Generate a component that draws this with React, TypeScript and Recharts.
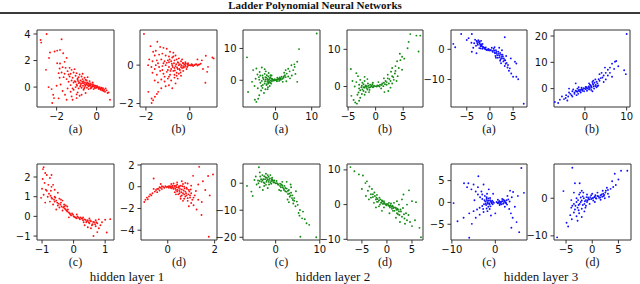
import { ScatterChart, Scatter, XAxis, YAxis, ReferenceArea } from 'recharts';

type Pt = [number, number];

// ─── Data (hidden layer 1 = red, 2 = green, 3 = blue) ──

const RED_A: Pt[] = [
  [-2.5, 4.0], [-2.8, 3.55], [-2.77, 3.35], [-1.75, 3.6], [-2.33, 2.6], [-2.1, 2.68], [-1.97, 2.75], [-1.83, 2.8],
  [-1.67, 2.55], [-2.38, 2.2], [-1.5, 2.2], [-1.97, 1.8], [-1.83, 1.78], [-1.6, 1.9], [-2.53, 1.3], [-1.85, 1.4],
  [-1.7, 1.5], [-1.55, 1.45], [-1.35, 1.45], [-1.25, 1.3], [-1.1, 1.35], [-1.9, 1.05], [-1.75, 1.1], [-1.6, 1.0],
  [-1.45, 1.2], [-1.3, 1.0], [-1.15, 1.1], [-1.0, 1.05], [-0.85, 0.95], [-0.7, 1.0], [-1.85, 0.7], [-1.65, 0.75],
  [-1.5, 0.6], [-1.35, 0.8], [-1.2, 0.7], [-1.05, 0.85], [-0.9, 0.75], [-0.75, 0.8], [-0.6, 0.7], [-0.45, 0.75],
  [-1.4, 0.4], [-1.25, 0.5], [-1.1, 0.45], [-0.95, 0.55], [-0.8, 0.5], [-0.65, 0.45], [-0.5, 0.5], [-0.35, 0.45],
  [-0.2, 0.35], [-1.0, 0.2], [-0.9, 0.3], [-0.8, 0.15], [-0.7, 0.3], [-0.6, 0.2], [-0.55, 0.1], [-0.5, 0.3],
  [-0.45, 0.15], [-0.4, 0.05], [-0.35, 0.2], [-0.3, 0.1], [-0.25, 0.0], [-0.2, 0.15], [-0.15, 0.05], [-0.1, 0.0],
  [-0.05, 0.1], [0.0, -0.05], [0.05, 0.02], [-0.6, 0.0], [-0.75, -0.05], [-0.9, -0.1], [-1.05, 0.0], [-0.65, -0.2],
  [-0.4, -0.15], [-0.3, -0.1], [-0.15, -0.15], [0.1, -0.1], [0.15, 0.0], [0.2, -0.2], [0.3, -0.15], [0.35, -0.3],
  [0.42, -0.35], [0.5, -0.25], [0.55, -0.45], [0.6, -0.4], [0.67, -0.95], [0.25, -0.05], [0.45, -0.1],
  [-2.25, -0.15], [-2.17, -0.58], [-2.13, -0.83], [-2.22, -1.2], [-1.5, -0.95], [-1.25, -0.7], [-1.0, -0.83],
  [-0.75, -0.58], [-1.58, -0.58], [-1.3, -0.35], [-1.15, -0.2], [-0.95, -0.4], [-0.85, -0.65], [-1.7, -0.3],
  [-1.8, 0.2], [-2.0, 0.1], [-1.45, -0.1], [-0.55, -0.45], [-1.2, -0.95], [-1.9, -0.85], [-2.4, 0.0],
  [-1.15, 0.35], [-1.05, 0.4], [-0.98, 0.1], [-0.92, 0.45], [-0.85, 0.35], [-0.82, 0.05], [-0.78, 0.25], [-0.72, 0.4],
  [-0.68, 0.1], [-0.65, 0.3], [-0.62, -0.1], [-0.58, 0.35], [-0.52, 0.22], [-0.48, -0.05], [-0.45, 0.35], [-0.42, 0.25],
  [-0.38, 0.12], [-0.33, 0.3], [-0.28, 0.22], [-0.27, -0.05], [-0.22, 0.05], [-0.18, 0.22], [-0.12, 0.12], [-0.08, -0.08],
  [-0.03, 0.02], [0.02, 0.08], [0.08, -0.02], [0.12, -0.15], [0.18, -0.08], [0.22, -0.12], [0.28, -0.25], [0.32, -0.08],
  [0.38, -0.2], [-1.3, 0.15], [-1.2, -0.1], [-0.95, 0.65], [-0.7, 0.6], [-0.55, 0.55], [-1.4, 0.95], [-1.0, -0.55],
];

const RED_B: Pt[] = [
  [-2.09, 1.62], [-1.79, 0.99], [-1.48, 1.22], [-1.67, 0.7], [-1.55, 0.75], [-1.35, 0.95], [-1.2, 0.9], [-1.05, 0.85],
  [-0.9, 0.7], [-0.75, 0.65], [-1.6, 0.5], [-1.4, 0.55], [-1.25, 0.6], [-1.1, 0.5], [-0.95, 0.45], [-0.8, 0.4],
  [-0.65, 0.5], [-0.5, 0.35], [-1.85, 0.3], [-1.7, 0.2], [-1.5, 0.25], [-1.3, 0.3], [-1.15, 0.2], [-1.0, 0.25],
  [-0.85, 0.2], [-0.7, 0.25], [-0.55, 0.15], [-0.4, 0.2], [-0.3, 0.1], [-0.2, 0.15], [-0.1, 0.05], [-1.9, 0.0],
  [-1.75, -0.1], [-1.55, 0.0], [-1.4, -0.1], [-1.25, -0.05], [-1.1, 0.0], [-0.95, -0.1], [-0.8, 0.0], [-0.65, -0.05],
  [-0.5, 0.0], [-0.4, -0.1], [-0.3, -0.05], [-0.2, 0.0], [-0.1, -0.05], [0.0, 0.0], [0.1, 0.02], [0.2, 0.0],
  [0.3, 0.05], [0.4, 0.02], [0.5, 0.08], [0.15, -0.05], [-1.7, -0.4], [-1.5, -0.5], [-1.35, -0.3], [-1.2, -0.45],
  [-1.05, -0.35], [-0.9, -0.5], [-0.75, -0.3], [-0.6, -0.4], [-0.45, -0.25], [-0.3, -0.3], [-0.15, -0.2],
  [-1.6, -0.8], [-1.45, -0.9], [-1.3, -0.75], [-1.15, -0.85], [-1.0, -0.7], [-0.85, -0.8], [-0.7, -0.65],
  [-0.55, -0.7], [-0.4, -0.55], [-1.89, -1.39], [-1.44, -1.39], [-1.3, -1.2], [-1.1, -1.1], [-0.95, -1.05],
  [-0.8, -1.2], [-0.65, -0.95], [-1.74, -1.74], [-1.74, -1.97], [-1.67, -1.83], [-1.59, -1.65], [-1.5, -1.5],
  [0.73, 0.49], [1.03, 0.4], [1.09, 0.35], [0.83, -0.09], [0.79, -0.35], [0.71, -0.92], [0.55, 0.25], [0.35, 0.3],
  [0.6, -0.2], [-0.7, -0.15], [-0.55, -0.2], [-0.85, -0.2], [-0.35, 0.3], [-0.6, 0.3], [-1.0, -0.25],
  [-1.2, 0.1], [-1.05, 0.12], [-0.92, 0.3], [-0.88, -0.3], [-0.82, 0.08], [-0.78, -0.1], [-0.72, 0.1], [-0.68, -0.28],
  [-0.62, 0.05], [-0.58, -0.12], [-0.52, 0.12], [-0.48, -0.2], [-0.45, 0.05], [-0.42, -0.38], [-0.38, 0.0], [-0.35, -0.15],
  [-0.32, 0.12], [-0.28, -0.12], [-0.25, 0.05], [-0.22, -0.08], [-0.18, 0.08], [-0.12, -0.1], [-0.08, 0.1], [-0.05, 0.0],
  [0.05, -0.02], [0.08, 0.05], [0.12, 0.0], [0.25, 0.03], [0.35, -0.02], [0.45, 0.04], [-1.15, -0.6], [-1.25, -0.25],
  [-0.95, -0.6], [-0.7, -0.5], [-0.5, -0.45], [-1.45, 0.1], [-1.6, -0.2], [-0.75, 0.45], [-0.95, 0.15], [-0.6, -0.55],
];

const RED_C: Pt[] = [
  [-0.95, 2.5], [-0.97, 2.4], [-0.9, 2.2], [-0.85, 2.1], [-0.75, 1.95], [-0.7, 2.1], [-0.98, 1.9], [-0.92, 1.7],
  [-0.8, 1.6], [-0.65, 1.6], [-1.0, 1.4], [-0.88, 1.35], [-0.72, 1.3], [-0.6, 1.35], [-0.5, 1.2], [-1.03, 0.94],
  [-0.95, 1.1], [-0.82, 1.0], [-0.7, 0.95], [-0.6, 1.0], [-0.55, 0.8], [-0.45, 0.9], [-0.4, 0.7], [-0.35, 0.8],
  [-0.9, 0.7], [-0.75, 0.75], [-0.65, 0.6], [-0.5, 0.55], [-0.45, 0.45], [-0.3, 0.5], [-0.25, 0.35], [-0.35, 0.3],
  [-0.2, 0.25], [-0.15, 0.2], [-0.1, 0.1], [-0.05, 0.15], [0.0, 0.0], [0.05, -0.05], [-0.3, 0.6], [-0.55, 0.35],
  [0.1, -0.1], [0.15, -0.05], [0.2, -0.15], [0.25, -0.1], [0.3, -0.2], [0.35, -0.15], [0.4, -0.3], [0.45, -0.2],
  [0.5, -0.35], [0.55, -0.25], [0.6, -0.4], [0.65, -0.3], [0.7, -0.5], [0.75, -0.35], [0.8, -0.6], [0.85, -0.45],
  [0.9, -0.3], [0.45, -0.55], [0.55, -0.6], [0.5, -0.1], [0.35, -0.45], [1.0, -0.17], [1.16, -0.14], [1.05, -0.82],
  [0.63, -1.0], [0.75, -0.8], [0.3, -0.05], [0.8, -0.15], [-0.2, 0.5], [-0.6, 0.75], [-0.15, -0.05], [0.1, 0.1],
  [0.7, -0.2], [-0.85, 1.3], [-0.78, 1.15], [-0.73, 1.05], [-0.68, 0.9], [-0.62, 0.85], [-0.58, 0.95], [-0.52, 0.7],
  [-0.48, 0.65], [-0.42, 0.6], [-0.38, 0.5], [-0.33, 0.45], [-0.28, 0.4], [-0.22, 0.3], [-0.18, 0.35], [-0.12, 0.15],
  [-0.08, 0.05], [-0.02, 0.08], [0.02, -0.02], [0.08, -0.08], [0.12, 0.0], [0.18, -0.1], [0.22, -0.05], [0.28, -0.12],
  [0.32, -0.3], [0.38, -0.18], [0.42, -0.25], [0.48, -0.3], [0.52, -0.2], [0.58, -0.45], [0.62, -0.28], [0.68, -0.4],
  [0.72, -0.3], [-0.4, 0.85], [-0.25, 0.55], [-0.7, 1.5],
];

const RED_D: Pt[] = [
  [-1.0, -1.4], [-0.95, -1.2], [-0.89, -1.0], [-0.8, -0.9], [-0.75, -0.7], [-0.65, -0.6], [-0.6, 0.76], [-0.55, -0.45],
  [-0.5, -0.3], [-0.45, -0.5], [-0.4, -0.2], [-0.35, -0.35], [-0.3, -0.1], [-0.25, -0.2], [-0.2, 0.0], [-0.15, -0.1],
  [-0.1, 0.05], [-0.05, -0.05], [-0.3, 0.25], [-0.6, -0.2], [0.0, 0.0], [0.05, -0.1], [0.1, 0.05], [0.15, -0.15],
  [0.2, 0.1], [0.25, -0.2], [0.3, 0.0], [0.35, -0.3], [0.4, 0.2], [0.45, -0.1], [0.5, -0.4], [0.55, 0.1],
  [0.6, -0.25], [0.65, -0.6], [0.7, 0.0], [0.75, -0.45], [0.8, -0.8], [0.85, 0.3], [0.9, -0.3], [0.95, -1.0],
  [1.0, -0.6], [0.3, -0.5], [0.45, -0.7], [0.55, -0.9], [0.7, -1.1], [0.85, -1.3], [1.0, -1.5], [1.1, -1.7],
  [1.23, -2.1], [1.44, -2.6], [1.3, -1.2], [1.2, -0.4], [1.1, -1.0], [0.9, -1.8], [0.65, -1.3], [0.4, 0.4],
  [0.6, 0.5], [0.75, 0.35], [1.08, 1.0], [1.34, 1.83], [1.72, 0.98], [1.93, 1.13], [1.5, 0.5], [1.3, 0.2],
  [1.6, -0.3], [1.79, -0.8], [1.75, -4.6], [0.25, 0.3], [0.5, 0.0], [0.8, -0.1], [1.0, 0.1], [1.45, -1.4],
  [0.15, 0.25], [0.35, 0.1], [0.05, 0.05], [0.12, -0.05], [0.18, 0.0], [0.22, -0.1], [0.28, 0.08], [0.32, -0.15],
  [0.38, -0.05], [0.42, -0.3], [0.48, 0.05], [0.52, -0.2], [0.58, -0.5], [0.62, 0.05], [0.68, -0.35], [0.72, -0.15],
  [0.78, -0.6], [0.82, -0.2], [0.88, -0.7], [0.92, -0.45], [0.98, -0.25], [0.5, -0.6], [0.4, -0.45], [0.6, -0.8],
  [0.7, -0.7], [0.75, -0.9], [0.95, -0.8], [1.05, -1.2], [0.85, -1.05], [-0.45, -0.2], [-0.35, -0.05], [-0.25, 0.05],
  [-0.7, -0.8], [-0.85, -1.15], [0.35, -0.7], [0.65, 0.25], [0.55, -1.1], [1.15, -0.8],
];

const GREEN_A: Pt[] = [
  [11.4, 14.7], [6.5, 9.8], [-7.9, 7.2], [-7.6, -3.7], [-5.7, -6.1], [-5.3, -6.8], [-4.8, -5.8], [-4.5, -4.7],
  [-6.2, 3.2], [-5.3, 3.7], [-4.4, 2.6], [-3.8, 4.0], [-3.0, 3.5], [-4.6, 1.0], [-5.5, 0.5], [-6.5, -0.5],
  [-5.8, -1.8], [-4.9, -2.5], [-4.0, -3.2], [-3.5, -1.5], [-3.2, -4.0], [-2.8, -2.8], [-4.2, -0.8], [-3.6, 1.5],
  [-3.0, 2.0], [-2.6, 0.8], [-2.3, -0.5], [-2.0, 1.2], [-1.8, 0.2], [-1.5, -0.8], [-1.2, 0.5], [-1.0, -0.3],
  [-0.8, 0.2], [-0.5, -0.1], [-2.5, -1.5], [-2.1, -2.2], [-1.6, -1.8], [-3.3, 0.3], [-2.9, -0.3], [-2.2, 0.4],
  [-1.9, -0.6], [-1.4, 1.0], [-3.8, -0.2], [-4.5, 0.2], [-5.0, 1.8], [-2.7, 2.8], [-1.9, 2.3], [-1.1, 1.5],
  [0.3, 0.2], [0.8, 0.5], [1.2, 0.9], [1.7, 1.1], [2.2, 0.8], [2.6, 1.6], [3.1, 2.1], [3.5, 1.2],
  [3.9, 2.8], [4.4, 4.7], [4.9, 3.2], [5.3, 4.2], [6.0, 5.8], [6.0, -0.5], [5.5, 2.0], [4.5, 1.5],
  [3.0, -0.3], [2.0, -0.5], [1.5, 0.2], [2.8, 3.2], [3.5, 3.6], [4.0, 0.6], [1.0, -0.2], [0.5, 0.8],
  [5.2, 5.0], [2.4, 2.4], [-3.0, -1.0], [-2.7, 0.2], [-2.4, -1.2], [-2.1, 0.0], [-1.7, -0.4], [-1.3, -0.1],
  [-0.9, 0.4], [-0.6, 0.1], [-0.3, 0.0], [-2.8, 1.0], [-2.4, 1.6], [-1.6, 0.7], [-3.5, 0.8], [-2.0, -1.0],
  [-1.2, -1.0], [-0.2, 0.3], [0.1, 0.0], [0.6, 0.2], [1.0, 0.4], [1.4, 0.6], [1.9, 0.5], [2.3, 1.2],
  [0.4, -0.3], [1.2, 0.2], [2.8, 1.0], [-3.9, -1.8], [-4.2, 1.5], [-1.4, 1.6], [-2.2, -2.8], [-3.6, -2.4],
];

const GREEN_B: Pt[] = [
  [6.3, 14.1], [7.4, 13.7], [8.1, 13.7], [7.8, 9.4], [6.0, 12.0], [5.8, 10.3], [4.4, 8.8], [4.8, 8.0],
  [4.5, 7.1], [5.2, 7.5], [3.9, 6.8], [3.6, 5.5], [4.2, 5.0], [3.0, 5.0], [2.8, 4.0], [3.5, 3.5],
  [4.8, 4.5], [2.2, 3.2], [2.5, 2.0], [3.2, 2.5], [4.0, 2.8], [1.8, 1.5], [2.0, 0.5], [1.5, 2.2],
  [1.2, 0.8], [0.8, 0.5], [0.5, 0.2], [0.2, 0.0], [1.0, -0.5], [2.3, -1.2], [3.0, 0.8], [2.7, -0.3],
  [3.8, 1.5], [1.6, -1.5], [-4.5, 4.7], [-3.5, 3.6], [-4.4, -2.5], [-4.0, -3.6], [-3.7, -4.3], [-3.4, -4.6],
  [-3.0, -3.8], [-2.8, -3.0], [-3.3, -2.2], [-2.5, -2.0], [-2.2, -1.2], [-1.8, -1.5], [-1.5, -0.8], [-1.2, -0.3],
  [-0.8, 0.0], [-0.5, -0.2], [-0.3, 0.2], [-1.0, 0.5], [-1.4, 0.8], [-1.8, 0.3], [-2.2, 0.6], [-2.6, -0.2],
  [-3.0, 0.5], [-3.5, 1.2], [-2.8, 1.8], [-2.0, 1.5], [-1.5, 2.0], [-3.8, 0.0], [-4.2, 1.5], [-2.4, -0.8],
  [-2.0, -0.3], [-1.6, 0.1], [-0.6, 0.6], [-1.1, -0.9], [-2.0, 2.6], [-3.2, 2.8], [-2.5, 0.2], [-2.2, -0.2],
  [-1.9, 0.0], [-1.6, -0.4], [-1.3, 0.2], [-1.0, -0.2], [-0.7, 0.2], [-0.4, -0.1], [-0.1, 0.1], [0.3, 0.3],
  [0.7, 0.0], [1.1, 0.4], [1.4, 0.1], [1.7, 0.6], [2.0, 1.2], [2.4, 0.8], [2.7, 1.5], [3.0, 2.8],
  [3.3, 1.8], [-2.8, -1.0], [-2.0, -2.2], [-1.2, -1.5], [-3.0, -0.5], [0.5, 1.2], [1.5, 1.0], [2.2, 2.2],
  [-0.5, 1.0], [-2.4, 1.0], [-3.1, -1.6], [3.6, 4.2],
];

const GREEN_C: Pt[] = [
  [-3.8, 5.9], [-3.6, 4.0], [-6.5, -1.0], [-5.5, -3.1], [-5.2, -4.7], [9.2, -20.0], [5.6, -19.8], [7.0, -14.8],
  [7.6, -15.4], [5.5, -9.9], [6.2, -10.5], [6.6, -13.3], [4.8, -6.8], [3.9, -6.2], [-4.5, 2.5], [-4.0, 1.0],
  [-3.5, 2.5], [-3.2, 0.5], [-3.0, 3.0], [-2.8, 1.5], [-2.5, 0.0], [-2.3, 2.2], [-2.0, 1.0], [-1.8, 3.0],
  [-1.6, 0.5], [-1.3, 1.8], [-1.0, 0.8], [-0.8, 2.0], [-0.5, 0.3], [-0.3, 1.0], [0.0, 0.0], [-4.3, -0.5],
  [-3.6, -1.5], [-2.6, -1.0], [-1.5, -0.5], [-2.2, 3.5], [-1.2, 3.0], [-3.9, 0.0], [-4.8, 1.2], [-3.3, 1.5],
  [-2.0, 2.0], [-0.7, 1.2], [-1.8, -1.8], [-2.9, -2.5], [0.5, -0.3], [1.0, -0.2], [1.2, -1.5], [1.5, -0.8],
  [1.8, -2.0], [2.0, -1.0], [2.2, -3.0], [2.5, -2.0], [2.8, -4.0], [3.0, -2.5], [3.2, -5.0], [3.5, -3.5],
  [3.8, -4.5], [4.0, -7.5], [4.2, -5.5], [4.5, -8.5], [2.5, 0.5], [3.5, -1.5], [5.0, -8.0], [1.5, 0.5],
  [2.7, -6.0], [3.0, -7.0], [4.6, -3.0], [5.4, -12.0], [6.0, -13.0], [5.2, -11.0], [3.4, -0.5], [0.8, -2.5],
  [-3.0, 1.0], [-2.7, 0.3], [-2.4, 1.5], [-2.1, 0.5], [-1.8, 1.5], [-1.5, 1.2], [-1.2, 0.3], [-0.9, 1.5],
  [-0.6, 0.8], [-0.3, 0.3], [0.3, 0.0], [0.6, -0.6], [1.0, -1.0], [1.3, -0.5], [1.6, -1.5], [1.9, -2.5],
  [2.2, -1.8], [2.5, -3.2], [2.8, -2.8], [3.1, -3.8], [3.4, -4.5], [3.7, -5.5], [-2.6, 2.6], [-1.6, 2.4],
  [-3.6, 0.8], [-2.2, -0.6], [-1.0, -0.2], [0.2, 0.8], [4.2, -6.5], [1.2, -2.8],
];

const GREEN_D: Pt[] = [
  [-7.3, 10.8], [-6.5, 9.6], [-5.6, 8.7], [-4.8, 8.4], [-4.3, 6.2], [-4.0, 6.7], [3.3, 2.9], [4.4, 4.1],
  [5.0, 1.0], [5.8, 0.7], [6.5, -6.7], [6.8, -9.4], [4.6, -5.0], [5.0, -6.2], [5.6, -4.5], [-5.0, 4.5],
  [-3.8, 4.0], [-3.5, 5.2], [-3.2, 3.0], [-3.0, 4.5], [-2.8, 2.2], [-2.5, 3.5], [-2.2, 1.5], [-2.0, 2.8],
  [-1.8, 0.8], [-1.5, 2.0], [-1.2, 0.5], [-1.0, 1.2], [-0.8, 0.2], [-0.5, 0.5], [-0.2, 0.0], [0.0, 0.2],
  [-2.6, 0.5], [-3.6, 1.5], [-4.2, 2.5], [-1.6, -0.5], [-0.6, -0.8], [0.3, -0.3], [0.6, -0.8], [0.8, 0.3],
  [1.0, -1.2], [1.2, -0.6], [1.5, -1.8], [1.8, -1.0], [2.0, -2.5], [2.2, -1.5], [2.5, -3.0], [2.8, -2.0],
  [3.0, -3.5], [3.2, -1.0], [3.5, -4.0], [3.8, -2.5], [4.0, -4.5], [4.3, -3.0], [1.4, 0.5], [2.4, 0.0],
  [3.0, 1.5], [0.5, -2.5], [1.8, -3.8], [2.6, -5.0], [3.6, -5.5], [-1.0, -1.8], [-2.2, -0.8], [2.0, 1.0],
  [4.0, 0.0], [-2.8, 3.0], [-2.4, 2.5], [-2.1, 2.0], [-1.9, 1.6], [-1.6, 1.2], [-1.3, 1.5], [-1.1, 0.6],
  [-0.9, 1.0], [-0.7, 0.4], [-0.4, 0.2], [-0.1, -0.2], [0.2, 0.1], [0.5, -0.4], [0.7, -0.2], [0.9, -0.6],
  [1.1, -0.3], [1.3, -1.0], [1.6, -0.8], [1.9, -1.5], [2.1, -1.2], [2.4, -2.0], [2.7, -1.4], [-3.2, 2.0],
  [-2.0, 0.8], [-0.6, 1.0], [0.4, 0.5], [1.2, -1.8], [2.2, -2.8], [3.4, -2.8], [-1.4, 0.0],
];

const BLUE_A: Pt[] = [
  [-7.9, 1.8], [-7.5, 0.7], [-6.2, 5.1], [-3.9, 5.1], [-5.0, 3.1], [-4.6, 3.7], [-3.9, -0.8], [-2.9, -1.3],
  [3.2, 4.0], [3.9, -5.2], [4.3, -6.3], [5.4, -4.1], [5.7, -4.7], [4.1, -7.1], [4.6, -8.0], [5.0, -9.1],
  [5.7, -9.1], [6.1, -9.9], [7.3, -18.0], [-3.2, 3.2], [-2.8, 2.5], [-2.5, 3.0], [-2.2, 2.0], [-2.6, 1.5],
  [-3.0, 1.2], [-2.0, 1.0], [-1.8, 1.6], [-1.5, 0.8], [-1.2, 0.5], [-1.6, 0.2], [-1.0, 0.0], [-0.7, -0.2],
  [-0.4, -0.3], [-0.2, -0.2], [0.0, -0.4], [-2.3, 0.4], [-3.4, 2.0], [-1.9, 2.8], [-3.6, 0.5], [-4.0, 2.2],
  [0.5, -0.5], [0.8, 0.2], [1.0, -1.0], [1.3, -0.3], [1.5, -1.5], [1.8, -0.8], [2.0, -2.0], [2.2, -1.2],
  [2.5, -2.5], [1.2, -2.2], [1.7, -2.8], [2.3, -3.3], [2.7, -1.8], [3.0, -3.0], [2.9, -4.0], [3.3, -3.6],
  [3.6, -4.5], [2.0, 0.5], [2.6, -0.3], [1.0, 0.7], [3.5, -2.2], [4.5, -3.0], [3.2, -5.5], [2.4, -4.6],
  [3.8, -6.0], [-2.7, 2.0], [-2.4, 2.4], [-2.1, 1.5], [-1.9, 1.2], [-1.7, 1.0], [-1.4, 0.6], [-1.1, 0.3],
  [-0.9, 0.6], [-0.6, 0.0], [-0.3, 0.1], [0.2, -0.2], [0.6, -0.8], [0.9, -0.4], [1.1, -1.3], [1.4, -0.9],
  [1.6, -2.0], [1.9, -1.5], [2.1, -2.6], [2.4, -1.8], [2.6, -3.0], [2.8, -2.4], [3.1, -3.6], [-2.9, 2.8],
  [-2.2, 2.6], [-1.6, 1.8], [-2.0, 0.3], [1.3, -2.8], [2.2, -3.8], [3.4, -4.8], [0.4, 0.5],
];

const BLUE_B: Pt[] = [
  [10.0, 20.8], [-7.2, -5.1], [-6.4, -5.5], [7.2, 10.2], [9.4, 7.0], [9.8, 5.5], [6.5, 9.5], [6.0, 8.0],
  [7.0, 7.5], [5.5, 7.2], [5.0, 6.0], [6.0, 6.0], [4.5, 5.0], [4.0, 6.0], [3.8, 4.0], [5.0, 3.5],
  [4.5, 2.5], [3.5, 3.0], [3.0, 2.0], [2.5, 3.5], [2.0, 1.5], [2.5, 1.0], [1.8, 2.5], [1.5, 0.8],
  [1.2, 1.5], [1.0, 0.5], [0.5, 0.2], [0.0, 0.0], [-0.5, -0.3], [-1.0, -0.5], [-1.5, -0.8], [-2.0, -1.0],
  [-2.5, -1.5], [-3.0, -1.0], [-2.2, 2.0], [-3.5, -2.0], [-4.0, -3.0], [-4.5, -2.5], [-5.0, -4.0], [-5.5, -3.0],
  [-4.2, -4.5], [-3.8, 0.0], [-3.0, -3.0], [-2.0, -2.5], [-1.0, -1.5], [-1.5, 0.5], [0.5, -0.8], [1.5, -0.5],
  [2.2, 0.0], [2.8, 0.5], [3.2, 1.2], [6.5, 4.5], [8.0, 8.5], [7.5, 10.5], [-1.8, 0.0], [-0.8, 0.3],
  [0.2, 0.6], [1.0, 2.0], [2.0, 3.0], [3.5, 5.5], [4.8, 8.0], [-6.0, -4.2], [-2.8, -0.3], [1.8, -1.0],
  [-2.5, -2.0], [-2.2, -0.8], [-1.8, -1.2], [-1.4, -0.4], [-1.2, -1.0], [-0.8, -0.2], [-0.6, -0.8], [-0.3, 0.2],
  [0.2, -0.2], [0.4, 0.5], [0.7, 0.0], [0.9, 0.8], [1.2, 0.2], [1.4, 1.2], [1.6, 0.4], [1.9, 1.8],
  [2.1, 0.8], [2.3, 2.2], [2.6, 1.4], [2.8, 2.6], [3.0, 1.0], [3.3, 3.6], [-3.2, -2.5], [-3.8, -1.5],
  [-4.6, -3.6], [-1.6, -2.0], [-0.2, -1.0], [1.0, -0.3], [4.2, 4.2], [5.5, 5.0],
];

const BLUE_C: Pt[] = [
  [6.0, 7.9], [-9.6, -0.15], [-6.0, -8.1], [-8.7, -4.3], [-7.3, -3.5], [-5.4, -4.9], [-3.9, 6.0], [-7.2, 4.4],
  [-6.2, 4.4], [-5.0, 4.1], [-2.7, 4.1], [6.6, 2.2], [5.5, -6.8], [3.7, -5.8], [4.9, -4.5], [3.4, 2.7],
  [4.1, 2.4], [-6.5, 3.5], [-5.5, 3.0], [-4.5, 2.5], [-4.0, 1.8], [-3.5, 1.2], [-3.0, 0.8], [-6.0, -2.5],
  [-5.0, -2.0], [-4.2, -1.6], [-3.6, -1.2], [-3.0, -0.8], [-4.8, 0.5], [-4.0, 3.5], [-3.2, 2.5], [-3.6, -2.8],
  [-4.5, -3.5], [-2.5, 0.5], [-2.2, -0.3], [-2.0, 0.8], [-1.8, 0.0], [-1.5, 0.4], [-1.3, -0.5], [-1.0, 0.2],
  [-0.8, -0.2], [-0.5, 0.1], [-1.6, -1.0], [-2.4, 1.5], [-1.2, 1.0], [-2.0, -1.4], [-0.3, -0.1], [-1.9, 2.0],
  [-2.8, -1.5], [0.3, 0.1], [0.6, -0.2], [0.9, 0.3], [1.2, -0.1], [1.5, 0.2], [1.8, -0.3], [2.1, 0.4],
  [2.4, 0.0], [2.7, -0.5], [1.0, -0.6], [1.6, 0.8], [2.2, -1.0], [3.0, 0.7], [3.2, -1.5], [3.6, -2.5],
  [4.0, -3.5], [2.8, 1.5], [3.8, 1.2], [4.5, -1.0], [0.6, 0.6], [5.2, 1.5], [-0.5, 2.0], [0.0, -2.5],
  [-1.0, -3.0], [-1.5, 3.0], [-2.3, 0.2], [-2.1, -0.6], [-1.9, 0.4], [-1.7, -0.3], [-1.6, 0.9], [-1.4, -0.2],
  [-1.2, 0.5], [-1.1, -0.9], [-0.9, 0.0], [-0.7, 0.4], [-0.6, -0.4], [-2.6, -0.4], [-2.0, 1.2], [-1.3, -1.5],
  [0.5, -0.1], [0.8, 0.0], [1.0, 0.2], [1.3, 0.1], [1.4, -0.4], [1.7, 0.3], [2.0, -0.1], [2.2, 0.3],
  [2.5, -0.2], [1.1, -0.3], [1.9, 0.6], [2.6, 0.5], [-3.0, 1.8], [-2.7, -2.2], [3.3, 0.2], [-1.8, -2.0],
];

const BLUE_D: Pt[] = [
  [-6.7, -10.4], [-3.8, 8.1], [-5.5, 1.9], [-3.3, 4.0], [-2.4, 4.0], [4.3, 6.5], [5.5, 7.3], [6.7, 7.3],
  [-4.6, -7.5], [-4.9, -6.5], [-3.9, -5.6], [-3.0, -4.8], [-2.5, -4.0], [-3.5, -3.8], [-4.2, -4.5], [-2.8, -2.5],
  [-3.5, -1.5], [-4.0, -0.5], [-2.0, -2.8], [-1.5, -1.5], [-2.2, -1.0], [-3.0, 0.0], [-2.5, 1.0], [-1.8, 0.5],
  [-1.2, -0.5], [-0.8, 0.2], [-0.5, -0.3], [0.0, 0.0], [0.4, 0.3], [0.8, -0.1], [1.2, 0.5], [1.5, 0.2],
  [1.8, 1.0], [2.2, 0.6], [2.5, 1.5], [3.0, 1.2], [3.5, 2.5], [4.0, 3.0], [4.5, 3.5], [3.8, 4.5],
  [2.8, 2.8], [2.0, 2.0], [-2.0, 2.0], [-1.0, 1.0], [-3.5, 1.5], [-1.5, -3.5], [-0.5, -1.5], [0.5, -1.0],
  [1.0, 1.5], [-2.8, -6.0], [-2.0, -5.0], [-1.3, -2.5], [-0.2, 0.8], [-3.2, -2.0], [-1.7, 1.5], [0.2, -0.6],
  [1.6, -0.4], [2.4, 0.0], [3.2, 0.4], [-2.6, -1.8], [-4.0, -2.5], [5.0, 5.0], [-1.0, -1.0], [0.6, 0.8],
  [-3.0, -1.0], [-2.7, -0.5], [-2.4, -1.5], [-2.2, 0.2], [-2.0, -0.6], [-1.8, -1.8], [-1.6, 0.0], [-1.4, -0.8],
  [-1.1, 0.3], [-0.9, -0.6], [-0.7, -0.2], [-0.4, 0.3], [-0.2, -0.2], [0.2, 0.1], [0.5, 0.4], [0.7, 0.0],
  [1.0, 0.6], [1.3, 0.1], [1.6, 0.8], [1.9, 0.4], [2.1, 1.2], [2.3, 0.9], [-3.3, -3.0], [-2.6, -3.2],
  [-3.8, -2.0], [-2.3, 1.5], [-1.2, -2.0], [0.0, 1.2], [2.6, 2.0], [3.0, 2.2],
];

const CAPTIONS = ['(a)', '(b)', '(c)', '(d)'];
const LAYER_LABELS = ['hidden layer 1', 'hidden layer 2', 'hidden layer 3'];

// ─── Layout ───────────────────────────────────────────────────────────────────

const AXIS = '#333';
const RED = '#ff1010';
const GREEN = '#138a13';
const BLUE = '#1010ff';

interface PanelSpec {
  left: number; top: number; w: number; h: number;
  xDomain: [number, number]; yDomain: [number, number];
  xTicks: number[]; yTicks: number[];
  pts: Pt[]; color: string; caption: string;
}

const PANELS: PanelSpec[] = [
  { left: 37, top: 30, w: 77, h: 77, xDomain: [-2.98, 0.87], yDomain: [-1.5, 4.3], xTicks: [-2, 0], yTicks: [0, 2, 4], pts: RED_A, color: RED, caption: CAPTIONS[0] },
  { left: 140, top: 30, w: 77, h: 77, xDomain: [-2.27, 1.24], yDomain: [-2.18, 1.83], xTicks: [-2, 0], yTicks: [-2, 0], pts: RED_B, color: RED, caption: CAPTIONS[1] },
  { left: 243, top: 30, w: 77, h: 77, xDomain: [-9, 12.3], yDomain: [-8.4, 15.8], xTicks: [0, 10], yTicks: [0, 10], pts: GREEN_A, color: GREEN, caption: CAPTIONS[0] },
  { left: 347, top: 30, w: 76, h: 77, xDomain: [-5.2, 8.6], yDomain: [-5.5, 15.2], xTicks: [-5, 0, 5], yTicks: [0, 10], pts: GREEN_B, color: GREEN, caption: CAPTIONS[1] },
  { left: 451, top: 30, w: 76, h: 77, xDomain: [-8.4, 8.0], yDomain: [-19.1, 6.4], xTicks: [-5, 0, 5], yTicks: [-10, 0], pts: BLUE_A, color: BLUE, caption: CAPTIONS[0] },
  { left: 554, top: 30, w: 76, h: 77, xDomain: [-7.4, 10.8], yDomain: [-7.0, 22.3], xTicks: [0, 10], yTicks: [0, 10, 20], pts: BLUE_B, color: BLUE, caption: CAPTIONS[1] },
  { left: 37, top: 164, w: 77, h: 76, xDomain: [-1.16, 1.28], yDomain: [-1.2, 2.66], xTicks: [-1, 0, 1], yTicks: [-1, 0, 1, 2], pts: RED_C, color: RED, caption: CAPTIONS[2] },
  { left: 141, top: 164, w: 76, h: 76, xDomain: [-1.14, 2.1], yDomain: [-4.9, 2.09], xTicks: [0, 2], yTicks: [-4, -2, 0, 2], pts: RED_D, color: RED, caption: CAPTIONS[3] },
  { left: 243, top: 164, w: 77, h: 76, xDomain: [-7.4, 10.05], yDomain: [-21, 7.1], xTicks: [0, 10], yTicks: [-20, -10, 0], pts: GREEN_C, color: GREEN, caption: CAPTIONS[2] },
  { left: 347, top: 164, w: 76, h: 76, xDomain: [-7.98, 7.2], yDomain: [-10.2, 11.7], xTicks: [-5, 0, 5], yTicks: [-10, 0, 10], pts: GREEN_D, color: GREEN, caption: CAPTIONS[3] },
  { left: 451, top: 164, w: 76, h: 76, xDomain: [-10.2, 7.3], yDomain: [-8.6, 8.8], xTicks: [-10, 0], yTicks: [-5, 0, 5], pts: BLUE_C, color: BLUE, caption: CAPTIONS[2] },
  { left: 554, top: 164, w: 77, h: 76, xDomain: [-7.3, 7.4], yDomain: [-11.1, 9.1], xTicks: [-5, 0, 5], yTicks: [-10, 0], pts: BLUE_D, color: BLUE, caption: CAPTIONS[3] },
];

const LAYER_X = [127, 333, 541];

const fmt = (v: number) => (v < 0 ? `\u2212${Math.abs(v)}` : `${v}`);
const tickStyle = { fontSize: 10, fill: '#111', fontFamily: '"DejaVu Sans", sans-serif' };
const serif = '"Liberation Serif", "Times New Roman", serif';

function Panel({ p }: { p: PanelSpec }) {
  const data = p.pts.map(([x, y]) => ({ x, y }));
  return (
    <>
      <div style={{ position: 'absolute', left: p.left - 40, top: p.top - 4 }}>
        <ScatterChart width={p.w + 52} height={p.h + 28} margin={{ top: 4, right: 12, left: 0, bottom: 0 }}>
          <XAxis
            type="number" dataKey="x" domain={p.xDomain} ticks={p.xTicks} allowDataOverflow interval={0}
            height={24} tickSize={3.5} tickMargin={2} axisLine={false}
            tickLine={{ stroke: AXIS }} tick={tickStyle} tickFormatter={fmt}
          />
          <YAxis
            type="number" dataKey="y" domain={p.yDomain} ticks={p.yTicks} allowDataOverflow interval={0}
            width={40} tickSize={3.5} tickMargin={3} axisLine={false}
            tickLine={{ stroke: AXIS }} tick={tickStyle} tickFormatter={fmt}
          />
          <Scatter
            data={data}
            isAnimationActive={false}
            shape={(s: any) => <circle cx={s.cx} cy={s.cy} r={0.95} fill={p.color} />}
          />
          <ReferenceArea
            x1={p.xDomain[0]} x2={p.xDomain[1]} y1={p.yDomain[0]} y2={p.yDomain[1]}
            fill="none" stroke={AXIS} strokeWidth={1} ifOverflow="visible"
          />
        </ScatterChart>
      </div>
      <div
        style={{
          position: 'absolute', left: p.left + p.w / 2, top: p.top + p.h + 16,
          transform: 'translateX(-50%)', fontFamily: serif, fontSize: 12, lineHeight: '12px', color: '#111',
          whiteSpace: 'nowrap',
        }}
      >
        {p.caption}
      </div>
    </>
  );
}

export default function App() {
  return (
    <div style={{ position: 'absolute', left: 0, top: 0, width: 640, height: 284, background: '#fff', overflow: 'hidden' }}>
      <div
        style={{
          position: 'absolute', left: 0, top: -0.5, width: 630, textAlign: 'center',
          fontFamily: serif, fontWeight: 700, fontSize: 11, lineHeight: '11px', color: '#111',
        }}
      >
        Ladder Polynomial Neural Networks
      </div>
      <div style={{ position: 'absolute', left: 0, top: 12, width: 640, height: 2, background: '#3a3a3a' }} />
      {PANELS.map((p, i) => <Panel key={i} p={p} />)}
      {LAYER_LABELS.map((t, i) => (
        <div
          key={t}
          style={{
            position: 'absolute', left: LAYER_X[i], top: 270, transform: 'translateX(-50%)',
            fontFamily: serif, fontSize: 13, lineHeight: '13px', color: '#111', whiteSpace: 'nowrap',
          }}
        >
          {t}
        </div>
      ))}
    </div>
  );
}
